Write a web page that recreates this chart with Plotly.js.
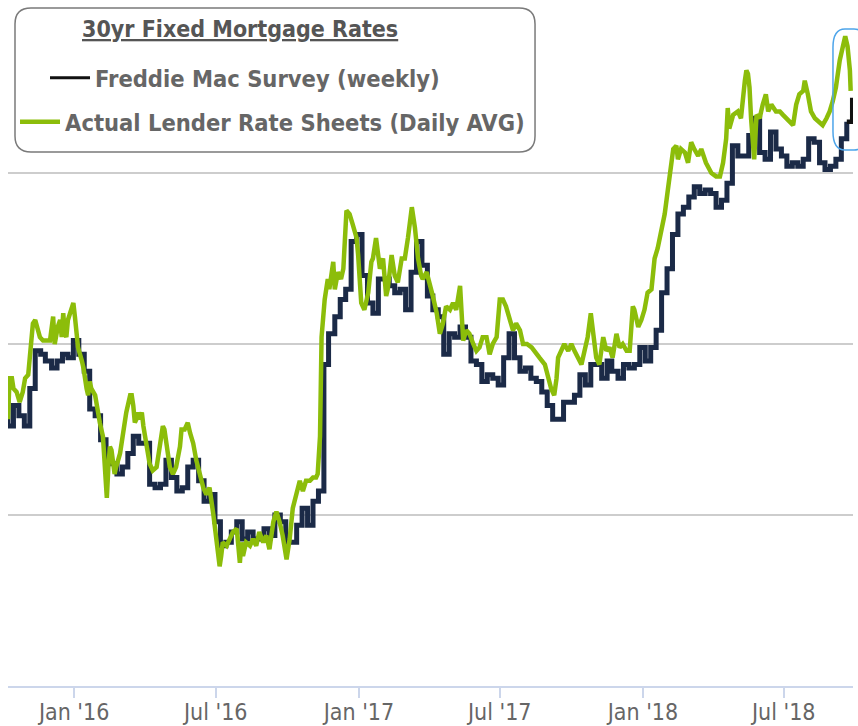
<!DOCTYPE html>
<html>
<head>
<meta charset="utf-8">
<script src="https://cdn.plot.ly/plotly-3.0.1.min.js"></script>
<style>
html,body{margin:0;padding:0;background:#fff;}
#chart{width:858px;height:726px;}
</style>
</head>
<body>
<div id="chart"></div>
<script>
// ---- Data ----
const chartTitle = "30yr Fixed Mortgage Rates";
const freddieName = "Freddie Mac Survey (weekly)";
const lenderName = "Actual Lender Rate Sheets (Daily AVG)";

const freddieDates = [
"2015-10-01","2015-10-08","2015-10-15","2015-10-22","2015-10-29","2015-11-05","2015-11-12","2015-11-19","2015-11-25","2015-12-03","2015-12-10","2015-12-17","2015-12-24","2015-12-31",
"2016-01-07","2016-01-14","2016-01-21","2016-01-28","2016-02-04","2016-02-11","2016-02-18","2016-02-25","2016-03-03","2016-03-10","2016-03-17","2016-03-24","2016-03-31","2016-04-07","2016-04-14","2016-04-21","2016-04-28","2016-05-05","2016-05-12","2016-05-19","2016-05-26","2016-06-02","2016-06-09","2016-06-16","2016-06-23","2016-06-30","2016-07-07","2016-07-14","2016-07-21","2016-07-28","2016-08-04","2016-08-11","2016-08-18","2016-08-25","2016-09-01","2016-09-08","2016-09-15","2016-09-22","2016-09-29","2016-10-06","2016-10-13","2016-10-20","2016-10-27","2016-11-03","2016-11-10","2016-11-17","2016-11-23","2016-12-01","2016-12-08","2016-12-15","2016-12-22","2016-12-29",
"2017-01-05","2017-01-12","2017-01-19","2017-01-26","2017-02-02","2017-02-09","2017-02-16","2017-02-23","2017-03-02","2017-03-09","2017-03-16","2017-03-23","2017-03-30","2017-04-06","2017-04-13","2017-04-20","2017-04-27","2017-05-04","2017-05-11","2017-05-18","2017-05-25","2017-06-01","2017-06-08","2017-06-15","2017-06-22","2017-06-29","2017-07-06","2017-07-13","2017-07-20","2017-07-27","2017-08-03","2017-08-10","2017-08-17","2017-08-24","2017-08-31","2017-09-07","2017-09-14","2017-09-21","2017-09-28","2017-10-05","2017-10-12","2017-10-19","2017-10-26","2017-11-02","2017-11-09","2017-11-16","2017-11-22","2017-11-30","2017-12-07","2017-12-14","2017-12-21","2017-12-28",
"2018-01-04","2018-01-11","2018-01-18","2018-01-25","2018-02-01","2018-02-08","2018-02-15","2018-02-22","2018-03-01","2018-03-08","2018-03-15","2018-03-22","2018-03-29","2018-04-05","2018-04-12","2018-04-19","2018-04-26","2018-05-03","2018-05-10","2018-05-17","2018-05-24","2018-05-31","2018-06-07","2018-06-14","2018-06-21","2018-06-28","2018-07-05","2018-07-12","2018-07-19","2018-07-26","2018-08-02","2018-08-09","2018-08-16","2018-08-23","2018-08-30","2018-09-06","2018-09-13","2018-09-20","2018-09-27"
];
const freddieRate = [
3.85,3.76,3.82,3.79,3.76,3.87,3.98,3.97,3.95,3.93,3.95,3.97,3.96,4.01,
3.97,3.92,3.81,3.79,3.72,3.65,3.65,3.62,3.64,3.68,3.73,3.71,3.71,3.59,3.58,3.59,3.66,3.61,3.57,3.58,3.64,3.66,3.60,3.54,3.56,3.48,3.41,3.42,3.45,3.48,3.43,3.45,3.43,3.43,3.46,3.44,3.50,3.48,3.42,3.42,3.47,3.52,3.47,3.54,3.57,3.94,4.03,4.08,4.13,4.16,4.30,4.32,
4.20,4.12,4.09,4.19,4.19,4.17,4.15,4.16,4.10,4.21,4.30,4.23,4.14,4.10,4.08,3.97,4.03,4.02,4.05,4.02,3.95,3.94,3.89,3.91,3.90,3.88,3.96,4.03,3.96,3.92,3.93,3.90,3.89,3.86,3.82,3.78,3.78,3.83,3.83,3.85,3.91,3.88,3.94,3.94,3.90,3.95,3.92,3.90,3.94,3.93,3.94,3.99,
3.95,3.99,4.04,4.15,4.22,4.32,4.38,4.40,4.43,4.46,4.44,4.45,4.44,4.40,4.42,4.47,4.58,4.55,4.55,4.61,4.66,4.56,4.54,4.62,4.57,4.55,4.52,4.53,4.52,4.54,4.60,4.59,4.53,4.51,4.52,4.54,4.60,4.65,4.72
];

const lenderDates = [
"2015-10-08","2015-10-10","2015-10-13","2015-10-15","2015-10-19","2015-10-23","2015-10-27","2015-10-30","2015-11-03","2015-11-05","2015-11-09","2015-11-12","2015-11-16","2015-11-18","2015-11-22","2015-11-27","2015-12-01","2015-12-05","2015-12-07","2015-12-11","2015-12-14","2015-12-16","2015-12-18","2015-12-20","2015-12-22","2015-12-24","2015-12-29","2015-12-31",
"2016-01-02","2016-01-04","2016-01-06","2016-01-11","2016-01-13","2016-01-17","2016-01-19","2016-01-21","2016-01-23","2016-01-28","2016-01-30","2016-02-03","2016-02-07","2016-02-09","2016-02-12","2016-02-14","2016-02-16","2016-02-18","2016-02-20","2016-02-22","2016-02-24","2016-02-29","2016-03-04","2016-03-08","2016-03-13","2016-03-15","2016-03-17","2016-03-19","2016-03-21","2016-03-23","2016-03-25","2016-03-28","2016-03-30","2016-04-03","2016-04-07","2016-04-11","2016-04-16","2016-04-20","2016-04-24","2016-04-26","2016-04-29","2016-05-03","2016-05-07","2016-05-11","2016-05-16","2016-05-18","2016-05-22","2016-05-26","2016-05-29","2016-06-02","2016-06-06","2016-06-10","2016-06-15","2016-06-19","2016-06-23","2016-06-28","2016-07-02","2016-07-06","2016-07-08","2016-07-10","2016-07-15","2016-07-19","2016-07-23","2016-07-28","2016-07-30","2016-08-01","2016-08-03","2016-08-05","2016-08-09","2016-08-14","2016-08-18","2016-08-22","2016-08-26","2016-08-31","2016-09-04","2016-09-08","2016-09-13","2016-09-17","2016-09-21","2016-09-25","2016-09-30","2016-10-04","2016-10-08","2016-10-13","2016-10-17","2016-10-21","2016-10-25","2016-10-30","2016-11-03","2016-11-07","2016-11-09","2016-11-12","2016-11-14","2016-11-18","2016-11-22","2016-11-24","2016-11-29","2016-12-01","2016-12-05","2016-12-09","2016-12-12","2016-12-16","2016-12-20","2016-12-24","2016-12-29","2016-12-31",
"2017-01-02","2017-01-04","2017-01-08","2017-01-13","2017-01-17","2017-01-19","2017-01-23","2017-01-26","2017-01-28","2017-02-01","2017-02-05","2017-02-07","2017-02-12","2017-02-16","2017-02-20","2017-02-25","2017-03-01","2017-03-05","2017-03-10","2017-03-14","2017-03-18","2017-03-22","2017-03-24","2017-03-29","2017-04-02","2017-04-06","2017-04-11","2017-04-15","2017-04-19","2017-04-23","2017-04-28","2017-05-02","2017-05-06","2017-05-11","2017-05-13","2017-05-15","2017-05-19","2017-05-23","2017-05-28","2017-06-01","2017-06-05","2017-06-09","2017-06-14","2017-06-18","2017-06-22","2017-06-27","2017-07-01","2017-07-05","2017-07-09","2017-07-14","2017-07-18","2017-07-22","2017-07-27","2017-07-31","2017-08-05","2017-08-11","2017-08-17","2017-08-21","2017-08-28","2017-09-01","2017-09-05","2017-09-09","2017-09-12","2017-09-14","2017-09-18","2017-09-22","2017-09-27","2017-10-01","2017-10-05","2017-10-09","2017-10-14","2017-10-18","2017-10-22","2017-10-26","2017-10-29","2017-11-02","2017-11-06","2017-11-11","2017-11-15","2017-11-19","2017-11-23","2017-11-28","2017-12-02","2017-12-06","2017-12-11","2017-12-15","2017-12-19","2017-12-21","2017-12-26","2017-12-30",
"2018-01-03","2018-01-07","2018-01-12","2018-01-16","2018-01-20","2018-01-25","2018-01-29","2018-02-02","2018-02-06","2018-02-09","2018-02-13","2018-02-15","2018-02-19","2018-02-24","2018-02-28","2018-03-04","2018-03-08","2018-03-13","2018-03-17","2018-03-23","2018-03-30","2018-04-05","2018-04-10","2018-04-14","2018-04-18","2018-04-20","2018-04-22","2018-04-27","2018-05-03","2018-05-07","2018-05-12","2018-05-14","2018-05-16","2018-05-18","2018-05-20","2018-05-22","2018-05-24","2018-05-27","2018-05-31","2018-06-04","2018-06-08","2018-06-11","2018-06-15","2018-06-21","2018-06-26","2018-06-30","2018-07-04","2018-07-08","2018-07-13","2018-07-17","2018-07-21","2018-07-26","2018-07-28","2018-08-01","2018-08-05","2018-08-10","2018-08-16","2018-08-20","2018-08-25","2018-08-29","2018-09-02","2018-09-06","2018-09-11","2018-09-15","2018-09-18","2018-09-21","2018-09-24","2018-09-25"
];
const lenderRate = [
3.78,3.90,3.90,3.87,3.86,3.83,3.86,3.90,3.91,3.97,4.06,4.07,4.03,4.02,4.01,4.01,4.01,4.08,4.00,4.05,4.07,4.02,4.09,4.03,4.02,4.07,4.11,4.12,
4.08,4.04,3.99,3.95,3.93,3.87,3.85,3.89,3.87,3.85,3.82,3.77,3.73,3.66,3.55,3.64,3.70,3.69,3.64,3.62,3.64,3.68,3.74,3.80,3.85,3.85,3.82,3.77,3.78,3.80,3.78,3.80,3.76,3.70,3.65,3.63,3.64,3.70,3.76,3.75,3.70,3.64,3.62,3.64,3.70,3.75,3.75,3.77,3.74,3.71,3.66,3.62,3.58,3.56,3.58,3.50,3.42,3.35,3.38,3.42,3.41,3.43,3.45,3.46,3.40,3.36,3.42,3.38,3.42,3.41,3.43,3.41,3.45,3.42,3.44,3.40,3.48,3.51,3.48,3.44,3.37,3.43,3.52,3.57,3.60,3.57,3.60,3.60,3.61,3.61,3.62,3.73,4.02,4.13,4.19,4.16,4.24,4.16,4.21,4.19,4.22,4.39,4.38,4.35,4.31,4.26,
4.19,4.12,4.10,4.15,4.24,4.25,4.31,4.25,4.22,4.25,4.14,4.16,4.26,4.20,4.18,4.25,4.25,4.31,4.40,4.34,4.25,4.20,4.19,4.21,4.18,4.14,4.09,4.03,4.06,4.11,4.10,4.12,4.10,4.17,4.09,4.01,4.04,4.03,4.00,3.98,3.99,4.02,4.02,3.97,4.00,4.02,4.13,4.13,4.11,4.07,4.04,4.06,4.04,4.00,4.00,3.99,3.97,3.96,3.94,3.90,3.87,3.85,3.90,3.96,3.98,4.00,3.98,4.00,3.98,3.96,3.94,3.98,4.02,4.09,4.02,3.96,3.94,4.02,3.98,3.99,3.96,4.03,3.99,4.00,3.98,3.98,4.11,4.10,4.05,4.07,
4.10,4.15,4.16,4.25,4.28,4.33,4.38,4.45,4.51,4.57,4.58,4.54,4.57,4.56,4.53,4.59,4.57,4.55,4.57,4.53,4.50,4.49,4.49,4.53,4.60,4.69,4.63,4.67,4.68,4.66,4.77,4.80,4.79,4.75,4.66,4.60,4.54,4.67,4.66,4.70,4.73,4.68,4.70,4.68,4.68,4.67,4.66,4.65,4.64,4.70,4.73,4.74,4.77,4.73,4.68,4.66,4.65,4.64,4.66,4.68,4.71,4.75,4.83,4.88,4.90,4.87,4.80,4.74
];

const xStart = "2015-10-08";
const xEnd = "2018-09-28";

// ---- Styling ----
const navy = "#1b2a47";
const green = "#8cbd0a";
const labelFont = "Liberation Sans Narrow, DejaVu Sans Condensed, Arial Narrow, sans-serif";
const n = freddieDates.length;

const traces = [
  {
    x: freddieDates.slice(0, n - 1), y: freddieRate.slice(0, n - 1),
    name: freddieName, type: "scatter", mode: "lines",
    line: {color: navy, width: 5, shape: "hv"},
    legend: "legend", showlegend: false, hoverinfo: "x+y"
  },
  {
    x: freddieDates.slice(n - 2), y: freddieRate.slice(n - 2),
    name: freddieName, type: "scatter", mode: "lines",
    line: {color: "#111111", width: 4.5, shape: "hv"},
    showlegend: false, hoverinfo: "x+y"
  },
  {
    x: [null], y: [null], name: freddieName, type: "scatter", mode: "lines",
    line: {color: "#111111", width: 3}, legend: "legend", showlegend: true
  },
  {
    x: lenderDates, y: lenderRate,
    name: lenderName, type: "scatter", mode: "lines",
    line: {color: green, width: 4.5},
    legend: "legend2", showlegend: true, hoverinfo: "x+y"
  }
];

// paper-coordinate helpers for decorations (legend box, highlight)
const box = {x0: 0.00828, x1: 0.6237, yt: 0.99123, yb: 0.7807, rx: 0.0189, ry: 0.0234};
function roundRect(b) {
  return "M" + (b.x0 + b.rx) + "," + b.yt +
    " L" + (b.x1 - b.rx) + "," + b.yt +
    " Q" + b.x1 + "," + b.yt + " " + b.x1 + "," + (b.yt - b.ry) +
    " L" + b.x1 + "," + (b.yb + b.ry) +
    " Q" + b.x1 + "," + b.yb + " " + (b.x1 - b.rx) + "," + b.yb +
    " L" + (b.x0 + b.rx) + "," + b.yb +
    " Q" + b.x0 + "," + b.yb + " " + b.x0 + "," + (b.yb + b.ry) +
    " L" + b.x0 + "," + (b.yt - b.ry) +
    " Q" + b.x0 + "," + b.yt + " " + (b.x0 + b.rx) + "," + b.yt + " Z";
}
const hl = {x0: 0.9763, x1: 1.0154, yt: 0.9605, yb: 0.7836, rx: 0.0142, ry: 0.027};

const legendFont = {family: labelFont, size: 23.5, color: "#666666", weight: "bold"};

const layout = {
  width: 858, height: 726,
  margin: {l: 8, r: 5, t: 2, b: 40},
  paper_bgcolor: "#ffffff", plot_bgcolor: "#ffffff",
  showlegend: true,
  xaxis: {
    type: "date", range: [xStart, xEnd],
    tick0: "2016-01-01", dtick: "M6", tickformat: "%b '%y",
    showgrid: false, zeroline: false,
    showline: true, linecolor: "#ccd6eb", linewidth: 2,
    ticks: "outside", ticklen: 10, tickwidth: 1.5, tickcolor: "#ccd6eb",
    ticklabelstandoff: -6,
    tickfont: {family: labelFont, size: 23, color: "#666666"},
    fixedrange: true
  },
  yaxis: {
    range: [3, 5], dtick: 0.5, tick0: 3,
    showticklabels: false, ticks: "",
    showgrid: true, gridcolor: "#cdcdcd", gridwidth: 2,
    zeroline: false, showline: false, fixedrange: true
  },
  legend: {
    x: 0.0438, xanchor: "left", y: 0.889, yanchor: "middle",
    bgcolor: "rgba(0,0,0,0)", borderwidth: 0,
    font: legendFont, itemwidth: 40
  },
  legend2: {
    x: 0.0083, xanchor: "left", y: 0.8246, yanchor: "middle",
    bgcolor: "rgba(0,0,0,0)", borderwidth: 0,
    font: legendFont, itemwidth: 40
  },
  shapes: [
    {type: "path", xref: "paper", yref: "paper", path: roundRect(box),
     line: {color: "#7a7a7a", width: 1.5}, fillcolor: "rgba(0,0,0,0)", layer: "above"},
    {type: "path", xref: "paper", yref: "paper", path: roundRect(hl),
     line: {color: "#4ea5ea", width: 1.5}, fillcolor: "rgba(0,0,0,0)", layer: "above"}
  ],
  annotations: [
    {text: "<u>" + chartTitle + "</u>", xref: "paper", yref: "paper",
     x: 0.2746, y: 0.9605, xanchor: "center", yanchor: "middle", showarrow: false,
     font: {family: labelFont, size: 23, color: "#555555", weight: "bold"}}
  ]
};

Plotly.newPlot("chart", traces, layout, {displayModeBar: false, staticPlot: true});
</script>
</body>
</html>
